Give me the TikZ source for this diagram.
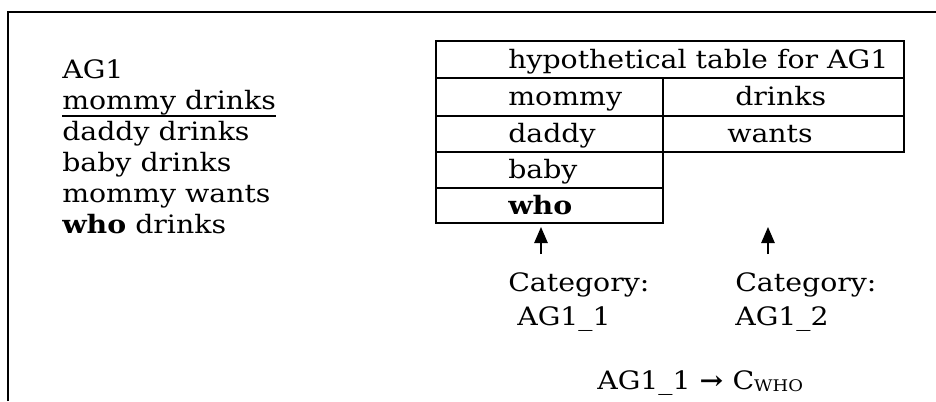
\documentclass[tikz,border=0pt]{standalone}
\usepackage{fontspec}
\setmainfont{DejaVu Serif}[FakeStretch=1.12]
\usetikzlibrary{arrows.meta}
\tikzset{>={Triangle[length=12pt,width=10pt]}}
\tikzset{
  word/.style={anchor=base west,inner sep=0pt},
  grid/.style={line width=1.4pt},
  pointer/.style={->,line width=1.2pt}
}

\begin{document}
\begin{tikzpicture}[x=0.75pt,y=-0.75pt,font=\fontsize{19}{22}\selectfont]
  \useasboundingbox (0,0) rectangle (936,401);
  % frame
  \draw[grid] (8,401) -- (8,12) -- (936,12);
  % sentences
  \node[word] (ag)   at (62,78)  {AG1};
  \node[word] (s1)   at (62,109) {mommy drinks};
  \draw[line width=1.3pt] ([yshift=-5pt]s1.base west) -- ([yshift=-5pt]s1.base east);
  \node[word] (s2)   at (62,140) {daddy drinks};
  \node[word] (s3)   at (62,171) {baby drinks};
  \node[word] (s4)   at (62,202) {mommy wants};
  \node[word] (s5)   at (62,233) {\textbf{who} drinks};
  % table
  \draw[grid] (436,41) rectangle (904,78);
  \draw[grid] (436,78) rectangle (663,116);
  \draw[grid] (663,78) rectangle (904,116);
  \draw[grid] (436,116) rectangle (663,152);
  \draw[grid] (663,116) rectangle (904,152);
  \draw[grid] (436,152) rectangle (663,188);
  \draw[grid] (436,188) rectangle (663,223);
  \node[word] (head)   at (508,68)  {hypothetical table for AG1};
  \node[word] (mommy)  at (508,105) {mommy};
  \node[word] (drinks) at (735,105) {drinks};
  \node[word] (daddy)  at (508,142) {daddy};
  \node[word] (wants)  at (727,142) {wants};
  \node[word] (baby)   at (508,178) {baby};
  \node[word] (who)    at (508,214) {\textbf{who}};
  % categories
  \node[word] (cat1) at (508,291) {Category:};
  \node[word] (id1)  at (517,325) {AG1\_1};
  \node[word] (cat2) at (735,291) {Category:};
  \node[word] (id2)  at (735,325) {AG1\_2};
  \coordinate (tail1) at (541,254);
  \coordinate (tip1)  at (541,227);
  \coordinate (tail2) at (768,254);
  \coordinate (tip2)  at (768,227);
  \draw[pointer] (tail1) -- (tip1);
  \draw[pointer] (tail2) -- (tip2);
  % rule
  \node[word] (rule) at (597,389)
    {AG1\_1 \textbf{→} C\raisebox{-0.2ex}{\fontsize{12}{14}\selectfont WHO}};
\end{tikzpicture}
\end{document}
